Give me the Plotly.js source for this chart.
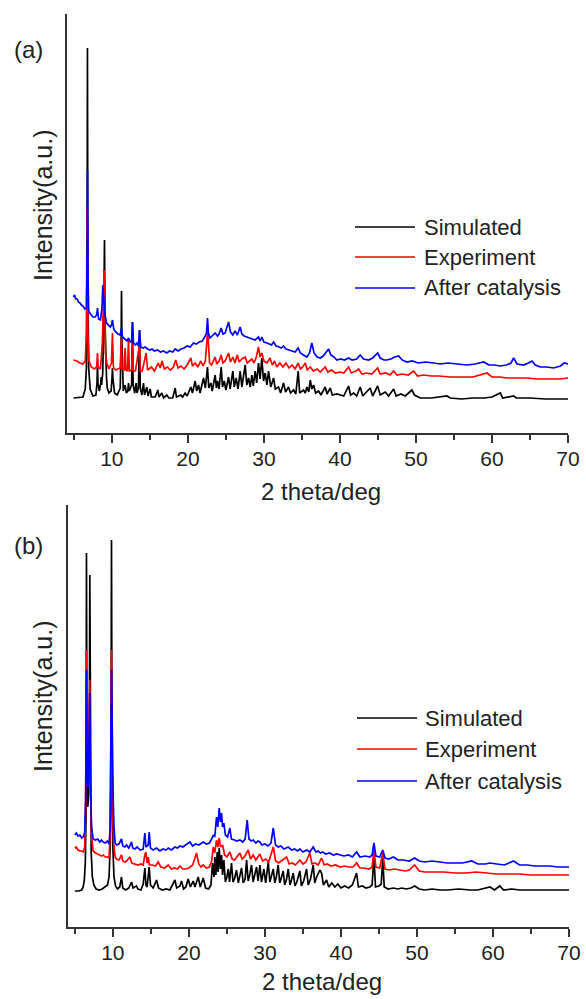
<!DOCTYPE html>
<html>
<head>
<meta charset="utf-8">
<script src="https://cdn.plot.ly/plotly-3.0.1.min.js"></script>
<style>html,body{margin:0;padding:0;background:#fff;}#chart{width:586px;height:999px;}</style>
</head>
<body>
<div id="chart"></div>
<script>
// ===== Panel (a) =====
const aSimX = [4.95,6.2,6.5,6.65,6.74,6.79,6.85,6.95,7.15,7.5,7.9,8.05,8.11,8.17,8.35,8.55,8.59,8.65,8.8,8.93,9.03,9.12,9.3,9.4,9.6,9.9,10.02,10.08,10.14,10.35,10.7,11.1,11.22,11.27,11.33,11.5,11.75,11.9,12.1,12.19,12.3,12.6,12.71,12.8,13.0,13.2,13.3,13.5,13.64,13.74,13.95,14.16,14.3,14.6,14.75,15.04,15.2,15.7,16.05,16.2,16.57,16.8,17.23,17.5,18.0,18.33,18.5,19.07,19.3,19.64,19.9,20.39,20.6,20.96,21.15,21.4,21.6,22.06,22.3,22.58,22.75,23.02,23.2,23.59,23.75,23.9,24.1,24.38,24.55,24.78,25.0,25.35,25.55,25.92,26.1,26.35,26.6,26.88,27.1,27.54,27.75,27.98,28.2,28.42,28.6,28.85,29.05,29.29,29.5,29.73,29.95,30.17,30.4,30.61,30.9,31.27,31.5,31.92,32.2,32.58,32.85,33.24,33.5,33.9,34.2,34.51,34.7,35.21,35.44,35.66,35.9,36.1,36.3,36.53,36.8,37.19,37.5,38.07,38.3,38.73,39.0,39.6,40.5,41.14,41.4,41.8,42.2,42.67,43.0,43.99,44.3,44.96,45.3,45.96,46.4,47.06,47.4,48.0,48.6,49.47,49.8,50.57,52.0,54.08,54.5,56.0,57.5,59.0,60.0,61.1,61.4,62.85,63.2,65.0,67.0,70.0];
const aSimY = [35,36,44,65,140,385,140,65,44,37,38,50,70,50,42,50,56,48,60,110,193,105,55,45,40,42,55,65,55,40,38,45,90,142,90,42,48,40,42,50,42,48,111,48,40,50,40,45,103,45,38,50,38,46,37,44,36,36,43,36,40,35,38,35,35,45,36,38,36,40,37,46,40,52,42,48,40,55,45,66,45,50,42,58,45,52,44,66,46,52,43,56,44,62,46,55,44,62,46,68,48,55,46,58,47,62,50,70,54,75,52,60,48,62,46,55,44,46,40,50,41,46,40,43,39,62,40,43,40,46,41,53,44,48,40,42,38,46,39,45,38,39,37,47,38,40,37,46,37,45,37,47,38,41,37,44,37,39,37,43,38,35,35,37,35,34,35,35,36,40,35,37,35,35,34,34];

const aExpX = [4.95,5.4,5.8,6.2,6.5,6.65,6.74,6.85,7.0,7.3,7.7,8.0,8.11,8.2,8.5,8.75,9.0,9.15,9.35,9.6,9.95,10.08,10.2,10.5,11.1,11.25,11.35,11.6,11.75,11.85,12.05,12.19,12.3,12.6,12.71,12.8,13.1,13.64,13.75,14.0,14.51,14.7,15.2,15.6,16.1,16.36,16.6,16.9,17.3,17.7,18.1,18.4,18.7,19.1,19.5,19.9,20.39,20.6,20.96,21.3,21.7,22.0,22.3,22.5,22.58,22.66,22.85,23.1,23.59,23.8,24.1,24.38,24.6,24.9,25.35,25.6,25.92,26.2,26.5,26.75,27.1,27.54,27.8,28.1,28.42,28.7,29.0,29.29,29.5,29.73,30.0,30.4,30.8,31.1,31.4,31.7,32.1,32.5,32.9,33.3,33.7,34.1,34.51,34.8,35.1,35.44,35.7,36.1,36.5,37.0,37.4,38.07,38.4,38.9,39.4,40.0,40.5,41.14,41.5,42.1,42.46,42.9,43.5,44.2,44.96,45.3,46.0,46.6,47.06,47.5,48.2,49.0,49.69,50.2,51.0,52.0,53.0,54.5,56.0,57.5,59.34,60.0,61.0,62.0,63.0,64.5,66.0,67.5,69.0,70.0];
const aExpY = [73,72,70,69,72,100,230,100,72,66,64,66,80,66,64,90,163,80,70,64,70,100,66,63,65,95,64,63,85,63,62,93,62,63,90,62,62,88,62,62,80,63,66,62,70,65,72,64,66,63,66,73,65,67,64,68,75,67,70,66,72,67,72,95,100,95,70,68,76,69,72,78,70,72,80,71,76,70,78,71,74,76,70,72,74,70,76,86,76,80,72,70,75,68,72,66,70,66,70,65,68,64,70,64,66,70,63,66,62,64,61,66,61,63,60,61,60,66,60,62,64,59,60,59,65,59,60,58,62,58,59,58,62,57,58,57,57,56,56,56,60,56,56,55,55,55,54,54,54,55];

const aAftX = [4.95,5.1,5.25,5.45,5.6,5.8,6.0,6.2,6.45,6.65,6.73,6.79,6.86,6.95,7.2,7.5,7.8,8.0,8.11,8.25,8.5,8.7,8.81,8.95,9.1,9.3,9.55,9.8,9.95,10.08,10.25,10.5,10.8,11.1,11.27,11.4,11.7,12.0,12.2,12.4,12.6,12.71,12.85,13.1,13.3,13.5,13.64,13.8,14.1,14.4,14.7,15.0,15.3,15.6,16.0,16.4,16.8,17.2,17.6,18.0,18.33,18.7,19.1,19.5,19.9,20.3,20.74,21.1,21.5,21.9,22.2,22.45,22.58,22.7,22.9,23.2,23.59,23.9,24.1,24.38,24.6,24.9,25.35,25.6,25.9,26.2,26.5,26.88,27.1,27.4,27.76,28.1,28.5,28.85,29.29,29.5,29.73,30.0,30.4,30.7,31.0,31.27,31.6,32.0,32.3,32.58,32.9,33.3,33.7,34.1,34.51,34.8,35.2,35.65,36.0,36.3,36.6,37.0,37.41,37.8,38.1,38.51,38.8,39.2,39.6,40.1,40.6,41.14,41.6,42.2,42.67,43.1,43.77,44.3,44.96,45.3,45.8,46.18,46.7,47.2,47.72,48.2,48.82,49.5,50.3,51.3,52.32,53.2,54.2,55.3,56.71,57.8,58.9,59.6,60.3,61.1,61.9,62.5,62.85,63.3,64.17,64.8,65.26,65.7,66.36,67.2,68.11,69.0,69.5,70.0];
const aAftY = [136,138,134,134,131,130,128,127,124,125,160,263,160,122,119,116,116,118,125,114,113,125,148,128,118,110,108,106,108,113,104,101,99,98,105,96,94,92,95,91,92,111,90,88,90,87,103,86,85,86,84,83,84,82,83,81,82,80,82,81,84,82,84,85,87,86,90,89,91,92,96,100,115,100,95,97,100,97,99,105,99,100,111,101,98,102,98,106,99,97,96,95,94,93,96,92,96,91,90,89,88,91,87,86,85,87,84,83,82,81,85,80,78,76,80,90,80,76,75,77,80,84,78,76,73,74,73,75,73,74,78,74,73,75,80,75,73,73,74,76,77,73,71,72,70,71,70,69,70,69,68,69,71,68,68,67,68,70,75,69,68,70,72,68,66,66,65,67,70,69];

// ===== Panel (b) =====
const bSimX = [5.0,5.5,5.9,6.1,6.25,6.38,6.47,6.53,6.6,6.7,6.8,6.9,6.97,7.04,7.15,7.3,7.5,7.8,8.2,8.6,9.0,9.3,9.5,9.65,9.75,9.82,9.9,10.0,10.15,10.35,10.6,10.9,11.14,11.3,11.7,12.1,12.46,12.65,13.11,13.3,13.7,13.99,14.21,14.35,14.5,14.65,14.78,14.95,15.3,15.75,16.0,16.5,17.0,17.5,18.16,18.4,18.82,19.03,19.3,19.6,19.91,20.2,20.57,20.8,21.23,21.5,21.89,22.2,22.6,22.9,23.11,23.3,23.42,23.55,23.73,23.85,23.99,24.15,24.3,24.43,24.6,24.8,25.0,25.18,25.35,25.61,25.8,26.0,26.27,26.5,26.71,26.93,27.15,27.4,27.59,27.8,28.0,28.24,28.45,28.65,28.9,29.1,29.34,29.55,29.7,29.87,30.1,30.44,30.65,30.85,31.1,31.3,31.5,31.75,31.95,32.15,32.41,32.6,32.85,33.07,33.3,33.5,33.73,33.95,34.2,34.6,34.8,35.1,35.48,35.7,36.0,36.36,36.55,36.8,37.24,37.45,37.7,38.11,38.4,38.8,39.2,39.6,40.0,40.5,41.0,41.5,42.06,42.3,42.8,43.3,43.8,44.1,44.34,44.55,45.0,45.3,45.5,45.7,46.2,46.9,47.5,48.0,48.6,49.2,49.7,50.3,51.0,52.0,53.0,54.0,55.5,57.0,58.0,59.6,60.2,60.9,61.4,62.5,63.5,65.0,66.5,68.0,70.0];
const bSimY = [36,36,37,40,47,65,110,374,150,120,130,170,352,140,75,50,42,38,37,38,40,42,50,80,150,387,150,80,50,41,38,40,50,39,37,39,45,39,41,38,37,43,59,42,40,52,60,42,39,47,39,37,38,37,47,39,41,46,38,40,48,40,46,40,50,40,49,39,38,42,64,50,70,52,75,55,79,58,72,52,67,45,50,58,45,64,45,48,57,44,50,59,44,48,67,46,52,62,45,52,60,46,62,45,50,58,44,65,45,52,58,44,50,62,44,49,56,42,48,58,42,47,54,41,45,56,41,46,58,42,48,62,44,50,57,54,42,47,40,44,40,43,39,41,39,42,54,40,41,39,40,42,70,40,41,43,68,40,38,39,38,39,38,39,41,38,37,38,37,37,38,37,37,40,37,41,37,38,37,37,37,37,37];

const bExpX = [5.0,5.2,5.4,5.66,5.9,6.1,6.3,6.42,6.53,6.62,6.75,6.88,6.97,7.05,7.2,7.41,7.7,8.0,8.29,8.5,8.73,9.0,9.3,9.5,9.65,9.82,9.95,10.1,10.3,10.48,10.8,11.14,11.3,11.6,11.8,12.24,12.5,12.9,13.3,13.7,13.99,14.21,14.34,14.5,14.65,14.8,15.2,15.6,15.96,16.3,16.8,17.28,17.7,18.1,18.5,18.82,19.2,19.6,20.0,20.5,21.01,21.3,21.6,21.89,22.3,22.7,23.0,23.2,23.4,23.64,23.8,23.99,24.15,24.43,24.7,25.0,25.39,25.7,26.0,26.3,26.71,27.0,27.3,27.81,28.1,28.46,28.8,29.34,29.7,30.1,30.5,31.1,31.4,31.8,32.2,32.85,33.2,33.6,34.0,34.6,35.0,35.4,35.9,36.2,36.6,37.0,37.45,37.8,38.2,38.7,39.3,39.9,40.5,41.0,41.6,42.06,42.5,43.0,43.7,44.1,44.34,44.6,45.1,45.5,45.8,46.4,47.0,47.7,48.5,49.0,49.7,50.3,51.0,52.0,53.5,55.0,56.5,57.8,59.0,60.5,62.0,63.5,65.0,66.5,68.0,70.0];
const bExpY = [79,80,77,76,76,75,80,120,277,150,140,200,247,140,90,76,74,73,72,71,72,70,70,69,95,277,120,85,70,68,67,72,66,65,66,70,64,63,62,63,62,72,75,64,70,62,62,61,65,60,59,62,58,59,58,61,58,58,59,62,74,63,60,62,59,60,66,80,74,87,80,89,80,82,72,70,75,68,67,70,74,68,70,77,68,72,67,73,66,68,65,80,66,64,66,70,63,64,62,67,63,65,74,63,64,62,69,62,63,61,62,60,61,60,60,64,59,59,58,60,77,60,59,74,58,57,58,57,56,57,62,56,55,55,55,54,54,55,54,53,53,53,52,52,52,52];

const bAftX = [5.0,5.2,5.4,5.66,5.9,6.1,6.3,6.42,6.53,6.62,6.75,6.88,6.97,7.05,7.2,7.41,7.7,8.0,8.29,8.5,8.73,9.0,9.3,9.5,9.65,9.82,9.95,10.04,10.15,10.3,10.48,10.8,11.14,11.3,11.6,11.8,12.1,12.46,12.6,12.9,13.2,13.6,13.99,14.21,14.35,14.65,14.78,14.95,15.3,15.75,16.18,16.6,17.0,17.28,17.7,18.16,18.5,18.82,19.2,19.6,20.13,20.5,20.9,21.3,21.89,22.3,22.7,23.0,23.2,23.4,23.64,23.8,23.99,24.15,24.3,24.43,24.6,24.8,25.1,25.39,25.6,26.0,26.3,26.71,27.1,27.4,27.67,27.9,28.2,28.46,28.8,29.1,29.34,29.6,30.0,30.4,30.8,31.1,31.4,31.75,32.1,32.5,33.07,33.5,33.9,34.3,34.6,35.0,35.5,35.9,36.35,36.7,37.0,37.3,37.6,38.0,38.5,39.0,39.5,39.9,40.4,41.0,41.5,42.06,42.5,43.2,43.8,44.1,44.34,44.6,45.1,45.5,45.8,46.3,46.9,47.5,48.2,49.0,49.7,50.3,51.0,52.0,53.0,54.0,55.0,56.0,57.2,58.0,59.0,59.6,60.5,61.5,62.7,63.5,64.5,65.5,66.5,67.5,68.5,70.0];
const bAftY = [92,94,91,92,89,90,95,130,257,150,140,180,234,140,100,88,87,88,85,87,85,84,86,83,100,257,150,129,100,84,82,83,88,81,80,82,79,85,79,78,80,77,78,94,80,82,95,79,77,79,76,78,77,79,77,80,79,81,80,82,85,81,83,82,85,83,84,88,92,90,110,100,119,105,114,100,104,92,90,99,88,87,86,87,85,88,107,88,86,87,84,86,85,82,83,81,84,99,82,80,81,78,80,77,78,76,78,75,77,75,80,75,76,74,75,73,74,72,73,72,71,72,70,75,70,71,70,72,84,71,70,77,69,68,70,67,67,66,69,66,65,66,65,64,64,64,66,63,63,64,63,62,66,62,62,61,61,61,60,60];

const seriesNames = ["Simulated", "Experiment", "After catalysis"];
const seriesColors = ["#000000", "#ff0000", "#0000ff"];
const xTickVals = [10, 20, 30, 40, 50, 60, 70];
const panelLabels = ["(a)", "(b)"];
const xTitle = "2 theta/deg";
const yTitle = "Intensity(a.u.)";

const W = 586, H = 999;
const px = v => v / W;
const py = v => 1 - v / H;

const panels = [
  {xs: [aSimX, aExpX, aAftX], ys: [aSimY, aExpY, aAftY], xa: 'x', ya: 'y'},
  {xs: [bSimX, bExpX, bAftX], ys: [bSimY, bExpY, bAftY], xa: 'x2', ya: 'y2'}
];

const traces = [];
panels.forEach(p => {
  for (let i = 0; i < 3; i++) {
    traces.push({
      type: 'scatter', mode: 'lines', name: seriesNames[i],
      x: p.xs[i], y: p.ys[i], xaxis: p.xa, yaxis: p.ya,
      line: {color: seriesColors[i], width: 1.7},
      showlegend: false, hoverinfo: 'skip'
    });
  }
});

const axisLine = '#333333';
function xAxis(domain, anchor) {
  return {
    domain: domain, anchor: anchor, range: [4.1, 70],
    tickmode: 'array', tickvals: xTickVals, ticktext: xTickVals.map(String),
    ticks: 'outside', ticklen: 8, tickwidth: 1.6, tickcolor: axisLine,
    showline: true, linecolor: axisLine, linewidth: 1.8,
    showgrid: false, zeroline: false,
    tickfont: {size: 21, color: '#222'},
    ticklabelstandoff: -2,
    minor: {tickmode: 'linear', tick0: 0, dtick: 5, ticks: 'outside', ticklen: 5, tickwidth: 1.6, tickcolor: axisLine, showgrid: false}
  };
}
function yAxis(domain, anchor, top) {
  return {
    domain: domain, anchor: anchor, range: [0, top],
    showline: true, linecolor: axisLine, linewidth: 1.8,
    showticklabels: false, ticks: '', showgrid: false, zeroline: false
  };
}

const annotations = [];
const shapes = [];
const panelGeom = [
  {label: [12, 50], ytitle: [43, 206], xtitle: [321, 491], legX: [355, 415, 422], legY: [227, 257, 288]},
  {label: [12, 545], ytitle: [43, 697], xtitle: [322, 981], legX: [357, 417, 423], legY: [718, 749, 781]}
];
panelGeom.forEach((g, k) => {
  annotations.push({text: panelLabels[k], xref: 'paper', yref: 'paper', x: px(g.label[0]), y: py(g.label[1]), xanchor: 'left', yanchor: 'middle', showarrow: false, font: {size: 24, color: '#222'}});
  annotations.push({text: yTitle, xref: 'paper', yref: 'paper', x: px(g.ytitle[0]), y: py(g.ytitle[1]), xanchor: 'center', yanchor: 'middle', textangle: -90, showarrow: false, font: {size: 25, color: '#222'}});
  annotations.push({text: xTitle, xref: 'paper', yref: 'paper', x: px(g.xtitle[0]), y: py(g.xtitle[1]), xanchor: 'center', yanchor: 'middle', showarrow: false, font: {size: 24, color: '#222'}});
  for (let i = 0; i < 3; i++) {
    shapes.push({type: 'line', xref: 'paper', yref: 'paper', x0: px(g.legX[0]), x1: px(g.legX[1]), y0: py(g.legY[i]), y1: py(g.legY[i]), line: {color: seriesColors[i], width: 1.6}});
    annotations.push({text: seriesNames[i], xref: 'paper', yref: 'paper', x: px(g.legX[2]), y: py(g.legY[i]), xanchor: 'left', yanchor: 'middle', showarrow: false, font: {size: 22, color: '#222'}});
  }
});

const layout = {
  width: W, height: H,
  margin: {l: 0, r: 0, t: 0, b: 0},
  paper_bgcolor: '#ffffff', plot_bgcolor: 'rgba(0,0,0,0)',
  showlegend: false,
  font: {family: '"Liberation Sans", Arial, sans-serif', color: '#222'},
  xaxis: xAxis([px(67), px(568)], 'y'),
  yaxis: yAxis([py(433), py(14)], 'x', 419),
  xaxis2: xAxis([px(68), px(569)], 'y2'),
  yaxis2: yAxis([py(927), py(505)], 'x2', 422),
  annotations: annotations,
  shapes: shapes
};

Plotly.newPlot('chart', traces, layout, {staticPlot: true, displayModeBar: false});
</script>
</body>
</html>
